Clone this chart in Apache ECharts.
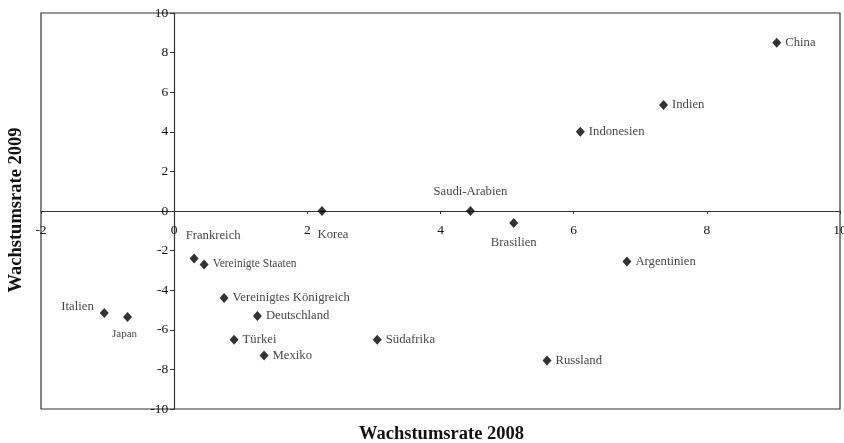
<!DOCTYPE html>
<html>
<head>
<meta charset="utf-8">
<script src="https://cdn.jsdelivr.net/npm/echarts@6/dist/echarts.min.js"></script>
<style>html,body{margin:0;padding:0;background:#fff;}#c{width:844px;height:443px;}</style>
</head>
<body>
<div id="c"></div>
<script>
const countries = ['China','Indien','Indonesien','Saudi-Arabien','Brasilien','Korea','Frankreich','Vereinigte Staaten','Vereinigtes Königreich','Deutschland','Türkei','Mexiko','Südafrika','Italien','Japan','Argentinien','Russland'];
const growth2008 = [9.05, 7.35, 6.1, 4.45, 5.1, 2.22, 0.3, 0.45, 0.75, 1.25, 0.9, 1.35, 3.05, -1.05, -0.7, 6.8, 5.6];
const growth2009 = [8.5, 5.35, 4.0, 0.0, -0.6, 0.0, -2.4, -2.7, -4.4, -5.3, -6.5, -7.3, -6.5, -5.15, -5.35, -2.55, -7.55];
const xTicks = [-2, 0, 2, 4, 6, 8, 10];
const yTicks = [-10, -8, -6, -4, -2, 0, 2, 4, 6, 8, 10];

const W = 844, H = 443;
const G = {left: 41, right: 4, top: 13, bottom: 34};
const gw = W - G.left - G.right, gh = H - G.top - G.bottom;
const xMin = xTicks[0], xMax = xTicks[xTicks.length - 1];
const yMin = yTicks[0], yMax = yTicks[yTicks.length - 1];
// shift axes so they cross at the origin (like Excel)
const yAxisOffset = -((0 - xMin) / (xMax - xMin)) * gw;
const xAxisOffset = -((0 - yMin) / (yMax - yMin)) * gh;

const serif = '"Liberation Serif", "Times New Roman", serif';
const labelCfg = {
  'Saudi-Arabien': {position: 'top', distance: 8},
  'Brasilien': {position: 'bottom', distance: 8},
  'Korea': {position: 'bottom', distance: 12, offset: [11, 0]},
  'Frankreich': {position: 'top', distance: 11, offset: [19, 0]},
  'Italien': {position: 'left', distance: 6, offset: [0, -6]},
  'Japan': {position: 'bottom', distance: 7, offset: [-3, 0], fontSize: 11},
  'Vereinigte Staaten': {position: 'right', distance: 4, fontSize: 11.5}
};

const data = countries.map((n, i) => {
  const c = labelCfg[n] || {position: 'right', distance: 4};
  return {
    name: n,
    value: [growth2008[i], growth2009[i]],
    label: Object.assign({show: true, formatter: n, fontFamily: serif, fontSize: 12.7, color: '#111'}, c)
  };
});

const chart = echarts.init(document.getElementById('c'), null, {renderer: 'canvas'});
chart.setOption({
  animation: false,
  backgroundColor: '#fff',
  grid: Object.assign({show: true, borderColor: '#333', borderWidth: 1.2, backgroundColor: 'transparent', containLabel: false, outerBoundsMode: 'none'}, G),
  xAxis: {
    type: 'value', min: xMin, max: xMax, interval: 2, offset: xAxisOffset,
    axisLine: {onZero: false, lineStyle: {color: '#333', width: 1.2}},
    axisTick: {show: true, length: 3, lineStyle: {color: '#333'}},
    axisLabel: {fontFamily: serif, fontSize: 13.5, color: '#111', margin: 12, showMinLabel: true, showMaxLabel: true},
    splitLine: {show: false}
  },
  yAxis: {
    type: 'value', min: yMin, max: yMax, interval: 2, offset: yAxisOffset,
    axisLine: {onZero: false, lineStyle: {color: '#333', width: 1.2}},
    axisTick: {show: true, length: 4, lineStyle: {color: '#333'}},
    axisLabel: {fontFamily: serif, fontSize: 13.5, color: '#111', margin: 6},
    splitLine: {show: false}
  },
  series: [{
    type: 'scatter',
    symbol: 'diamond',
    symbolSize: [9, 10],
    itemStyle: {color: '#000'},
    data: data
  }],
  graphic: [
    {type: 'text', x: 441.5, y: 434, style: {text: 'Wachstumsrate 2008', font: 'bold 18.5px ' + serif, fill: '#111', align: 'center', verticalAlign: 'middle'}},
    {type: 'text', x: 16, y: 210, rotation: Math.PI / 2, style: {text: 'Wachstumsrate 2009', font: 'bold 18.5px ' + serif, fill: '#111', align: 'center', verticalAlign: 'middle'}}
  ]
});
</script>
</body>
</html>
